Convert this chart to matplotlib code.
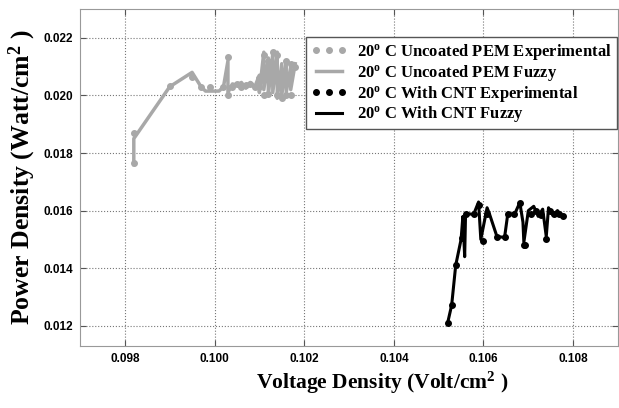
import matplotlib
matplotlib.use("Agg")
import matplotlib.pyplot as plt

plt.rcParams['mathtext.fontset'] = 'custom'
plt.rcParams['mathtext.rm'] = 'Liberation Serif:bold'
plt.rcParams['mathtext.bf'] = 'Liberation Serif:bold'
plt.rcParams['mathtext.it'] = 'Liberation Serif:bold'
plt.rcParams['mathtext.default'] = 'rm'

# 20 C uncoated PEM - experimental points
unc_exp_x = [0.0982, 0.0982, 0.0990, 0.0995, 0.0997, 0.0999, 0.1002, 0.1003, 0.1003,
             0.1004, 0.1005, 0.1006, 0.1007, 0.1008, 0.1009, 0.1010, 0.1010, 0.1011,
             0.1011, 0.1012, 0.1012, 0.1013, 0.1013, 0.1014, 0.1014, 0.1015, 0.1015,
             0.1016, 0.1016, 0.1017, 0.1017, 0.1018]
unc_exp_y = [0.01765, 0.01871, 0.02032, 0.02063, 0.02028, 0.02028, 0.02030, 0.02132, 0.02000,
             0.02030, 0.02040, 0.02030, 0.02035, 0.02040, 0.02030, 0.02060, 0.02030, 0.02140,
             0.02000, 0.02120, 0.02005, 0.02150, 0.02050, 0.02000, 0.02140, 0.02080, 0.01990,
             0.02120, 0.02000, 0.02110, 0.02000, 0.02100]

# 20 C uncoated PEM - fuzzy model
unc_fuz_x = [0.0982, 0.0982, 0.0990, 0.0995, 0.0997, 0.0998, 0.1001, 0.1002, 0.1003,
             0.1003, 0.1004, 0.1005, 0.1006, 0.1007, 0.1008, 0.1009, 0.1010, 0.1010,
             0.1011, 0.1011, 0.1012, 0.1012, 0.1013, 0.1013, 0.1014, 0.1014, 0.1015,
             0.1015, 0.1016, 0.1016, 0.1017, 0.1017, 0.1018]
unc_fuz_y = [0.01760, 0.01850, 0.02030, 0.02080, 0.02030, 0.02015, 0.02015, 0.02030, 0.02120,
             0.02010, 0.02040, 0.02035, 0.02045, 0.02025, 0.02045, 0.02030, 0.02070, 0.02010,
             0.02150, 0.02020, 0.02130, 0.02000, 0.02145, 0.02010, 0.02150, 0.01990, 0.02110,
             0.02000, 0.02120, 0.02010, 0.02100, 0.02020, 0.02110]

# 20 C with CNT - experimental points
cnt_exp_x = [0.10520, 0.10529, 0.10538, 0.10553, 0.10560, 0.10578, 0.10589, 0.10600,
             0.10608, 0.10630, 0.10647, 0.10654, 0.10668, 0.10681, 0.10690, 0.10692,
             0.10705, 0.10716, 0.10728, 0.10740, 0.10748, 0.10758, 0.10768, 0.10778]
cnt_exp_y = [0.01210, 0.01272, 0.01410, 0.01506, 0.01587, 0.01587, 0.01620, 0.01493,
             0.01590, 0.01510, 0.01507, 0.01587, 0.01590, 0.01625, 0.01480, 0.01480,
             0.01590, 0.01600, 0.01585, 0.01500, 0.01600, 0.01590, 0.01590, 0.01580]

# 20 C with CNT - fuzzy model
cnt_fuz_x = [0.10520, 0.10529, 0.10538, 0.10550, 0.10554, 0.10558, 0.10560, 0.10578,
             0.10589, 0.10594, 0.10608, 0.10613, 0.10630, 0.10647, 0.10654, 0.10670,
             0.10681, 0.10688, 0.10690, 0.10700, 0.10712, 0.10722, 0.10732, 0.10740,
             0.10745, 0.10755, 0.10765, 0.10778]
cnt_fuz_y = [0.01210, 0.01272, 0.01410, 0.01500, 0.01580, 0.01440, 0.01590, 0.01587,
             0.01630, 0.01500, 0.01610, 0.01590, 0.01510, 0.01507, 0.01587, 0.01590,
             0.01628, 0.01560, 0.01490, 0.01600, 0.01615, 0.01580, 0.01605, 0.01510,
             0.01610, 0.01585, 0.01600, 0.01577]

x_ticks = [0.098, 0.100, 0.102, 0.104, 0.106, 0.108]
y_ticks = [0.012, 0.014, 0.016, 0.018, 0.020, 0.022]

gray = '#a8a8a8'

fig = plt.figure(figsize=(6.19, 4.08), dpi=100)
ax = fig.add_axes([80 / 619, 1 - 346 / 408, 538 / 619, 337 / 408])

ax.plot(unc_exp_x, unc_exp_y, 'o', color=gray, markersize=4,
        label='20$^{o}$ C Uncoated PEM Experimental')
ax.plot(unc_fuz_x, unc_fuz_y, '-', color=gray, linewidth=2.5,
        label='20$^{o}$ C Uncoated PEM Fuzzy')
ax.plot(cnt_exp_x, cnt_exp_y, 'o', color='black', markersize=4,
        label='20$^{o}$ C With CNT Experimental')
ax.plot(cnt_fuz_x, cnt_fuz_y, '-', color='black', linewidth=2.2,
        label='20$^{o}$ C With CNT Fuzzy')

ax.set_xlim(0.097, 0.109)
ax.set_ylim(0.0113, 0.0230)
ax.set_xticks(x_ticks)
ax.set_yticks(y_ticks)
ax.set_xticklabels(['%.3f' % t for t in x_ticks])
ax.set_yticklabels(['%.3f' % t for t in y_ticks])
for lab in ax.get_xticklabels() + ax.get_yticklabels():
    lab.set_family('Liberation Sans')
    lab.set_fontweight('bold')
    lab.set_fontsize(8.5)
ax.tick_params(direction='in', length=4, color='#555555', top=True, right=True, pad=5)

ax.grid(True, linestyle=':', color='#777777', linewidth=0.8)
for s in ax.spines.values():
    s.set_color('#999999')

ax.set_xlabel('Voltage Density (Volt/cm$^{2}$ )', family='Liberation Serif',
              fontweight='bold', fontsize=15.5)
ax.xaxis.set_label_coords(0.561, -0.072)
ax.set_ylabel('Power Density (Watt/cm$^{2}$ )', family='Liberation Serif',
              fontweight='bold', fontsize=18.5, labelpad=4)

leg = ax.legend(loc='upper right', bbox_to_anchor=(0.998, 0.917), borderaxespad=0,
                numpoints=3, fancybox=False, framealpha=1, edgecolor='#555555',
                prop={'family': 'Liberation Serif', 'weight': 'bold', 'size': 12},
                handlelength=2.2, labelspacing=0.05, borderpad=0.3, handletextpad=0.6)
leg.get_frame().set_linewidth(1.0)

fig.savefig('out.png', dpi=100)
